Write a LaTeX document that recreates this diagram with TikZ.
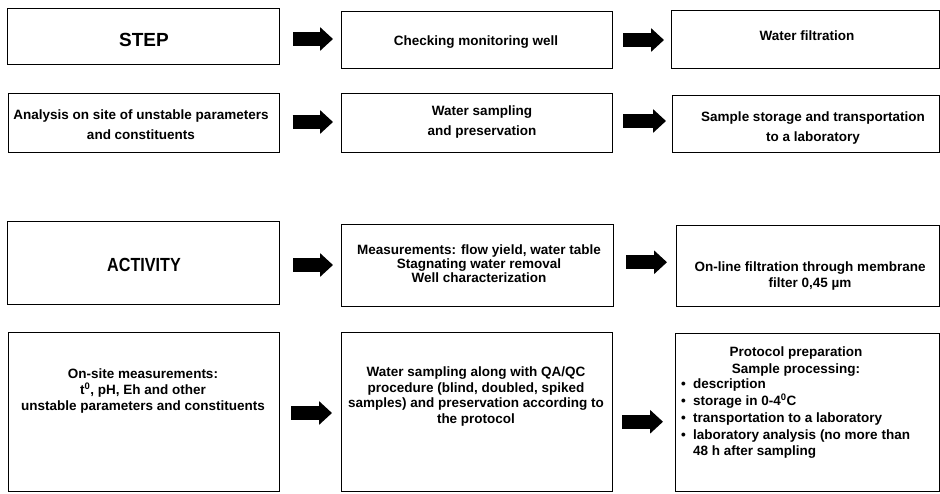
\documentclass[tikz,border=0pt]{standalone}
\usepackage{fontspec}
\setmainfont{Liberation Sans}
\newfontfamily\narrowbf[FakeStretch=0.85]{Liberation Sans}
\usetikzlibrary{arrows.meta,calc}
\tikzset{
  box/.style={draw=black,line width=0.9pt,rectangle,inner sep=0pt,outer sep=0pt},
  txt/.style={font=\bfseries\fontsize{13.5}{20}\selectfont,align=center,inner sep=0pt},
  big/.style={font=\bfseries\fontsize{19}{22}\selectfont,inner sep=0pt},
  fat/.style={line width=14pt,-{Triangle[length=13pt,width=23pt]}}
}
\begin{document}
\begin{tikzpicture}[x=1pt,y=-1pt]
\useasboundingbox[fill=white] (0,0) rectangle (940,493);
% boxes
\node[box,minimum width=272pt,minimum height=56pt] (a1) at (143.5,36) {};
\node[box,minimum width=271pt,minimum height=57pt] (b1) at (476.5,39.5) {};
\node[box,minimum width=268.5pt,minimum height=58pt] (c1) at (805.25,39) {};
\node[box,minimum width=271pt,minimum height=59pt] (a2) at (143.5,122.5) {};
\node[box,minimum width=271pt,minimum height=59pt] (b2) at (476.5,122.5) {};
\node[box,minimum width=267.5pt,minimum height=57pt] (c2) at (805.75,123.5) {};
\node[box,minimum width=272pt,minimum height=83pt] (a3) at (143.5,262.5) {};
\node[box,minimum width=272pt,minimum height=82.5pt] (b3) at (477,265.25) {};
\node[box,minimum width=263.5pt,minimum height=81.5pt] (c3) at (807.75,265.75) {};
\node[box,minimum width=271pt,minimum height=159.5pt] (a4) at (143.5,411.75) {};
\node[box,minimum width=271pt,minimum height=159.5pt] (b4) at (476.5,411.75) {};
\node[box,minimum width=264.5pt,minimum height=158.5pt] (c4) at (807.25,412.25) {};
% texts
\node[big] (a1t) at (144,40) {STEP};
\node[txt] (b1t) at (476,42) {Checking monitoring well};
\node[txt] (c1t) at (807,36) {Water filtration};
\node[txt] (a2t) at (141,125) {Analysis on site of unstable parameters\\and constituents};
\node[txt] (b2t) at (482,122) {Water sampling\\and preservation};
\node[txt] (c2t) at (813,128) {Sample storage and transportation\\to a laboratory};
\node[big,font=\narrowbf\bfseries\fontsize{19}{22}\selectfont] (a3t) at (144,265) {ACTIVITY};
\node[txt,font=\bfseries\fontsize{13.5}{14}\selectfont] (b3t) at (479,264) {Measurements: flow yield, water table\\Stagnating water removal\\Well characterization};
\node[txt,font=\bfseries\fontsize{13.5}{16}\selectfont] (c3t) at (810,276) {On-line filtration through membrane\\filter 0,45 µm};
\node[txt,font=\bfseries\fontsize{13.5}{16}\selectfont] (a4t) at (143,391) {On-site measurements:\\t\textsuperscript{0}, pH, Eh and other\\unstable parameters and constituents};
\node[txt,font=\bfseries\fontsize{13.5}{15.7}\selectfont] (b4t) at (476,396.5) {Water sampling along with QA/QC\\procedure (blind, doubled, spiked\\samples) and preservation according to\\the protocol};
\node[txt,font=\bfseries\fontsize{13.5}{17}\selectfont] (c4t) at (796,361.5) {Protocol preparation\\Sample processing:};
\node[txt,font=\bfseries\fontsize{13.5}{16.75}\selectfont,align=left,anchor=north west] (c4l) at (681,379) {\makebox[12pt][l]{\textbullet}description\\\makebox[12pt][l]{\textbullet}storage in 0-4\textsuperscript{0}C\\\makebox[12pt][l]{\textbullet}transportation to a laboratory\\\makebox[12pt][l]{\textbullet}laboratory analysis (no more than\\\hspace*{12pt}48 h after sampling};
% arrows
\draw[fat] ([xshift=13.5pt,yshift=-3pt]a1.east) coordinate (s1) -- ($(b1.west |- s1)+(-8pt,0)$);
\draw[fat] ([xshift=11pt,yshift=-0.5pt]b1.east) coordinate (s2) -- ($(c1.west |- s2)+(-7pt,0)$);
\draw[fat] ([xshift=13.5pt,yshift=0.5pt]a2.east) coordinate (s3) -- ($(b2.west |- s3)+(-8pt,0)$);
\draw[fat] ([xshift=11pt,yshift=1.5pt]b2.east) coordinate (s4) -- ($(c2.west |- s4)+(-6pt,0)$);
\draw[fat] ([xshift=13.5pt,yshift=-2.5pt]a3.east) coordinate (s5) -- ($(b3.west |- s5)+(-8pt,0)$);
\draw[fat] ([xshift=13pt,yshift=3pt]b3.east) coordinate (s6) -- ($(c3.west |- s6)+(-9pt,0)$);
\draw[fat] ([xshift=12pt,yshift=-1.25pt]a4.east) coordinate (s7) -- ($(b4.west |- s7)+(-9pt,0)$);
\draw[fat] ([xshift=10pt,yshift=-10pt]b4.east) coordinate (s8) -- ($(c4.west |- s8)+(-12pt,0)$);
\end{tikzpicture}
\end{document}
